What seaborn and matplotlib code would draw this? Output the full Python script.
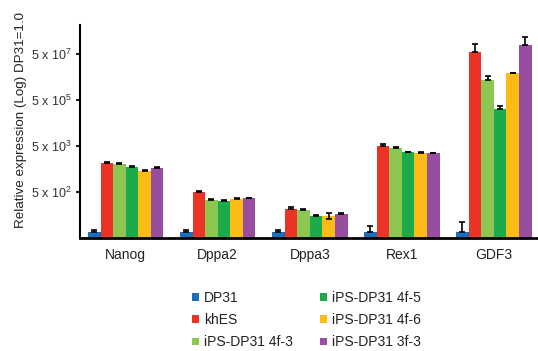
import matplotlib
matplotlib.use("Agg")
import matplotlib.pyplot as plt
import seaborn as sns
import pandas as pd
import numpy as np

genes = ["Nanog", "Dppa2", "Dppa3", "Rex1", "GDF3"]
samples = ["DP31", "khES", "iPS-DP31 4f-3", "iPS-DP31 4f-5", "iPS-DP31 4f-6", "iPS-DP31 3f-3"]
colors = ["#1b6fba", "#ec3325", "#8dc751", "#1bab4b", "#fcbb15", "#974ea0"]

# bar heights in axis units (tick 1..4 = 5x10^2, 5x10^3, 5x10^5, 5x10^7)
values = {
    "DP31":          [0.14, 0.14, 0.14, 0.14, 0.14],
    "khES":          [1.63, 1.00, 0.64, 2.00, 4.06],
    "iPS-DP31 4f-3": [1.62, 0.83, 0.62, 1.97, 3.45],
    "iPS-DP31 4f-5": [1.54, 0.80, 0.48, 1.87, 2.81],
    "iPS-DP31 4f-6": [1.46, 0.84, 0.48, 1.86, 3.59],
    "iPS-DP31 3f-3": [1.52, 0.86, 0.53, 1.85, 4.21],
}
err_up = {
    "DP31":          [0.03, 0.04, 0.04, 0.11, 0.20],
    "khES":          [0.02, 0.02, 0.03, 0.04, 0.16],
    "iPS-DP31 4f-3": [0.02, 0.02, 0.01, 0.02, 0.08],
    "iPS-DP31 4f-5": [0.02, 0.03, 0.01, 0.01, 0.07],
    "iPS-DP31 4f-6": [0.01, 0.02, 0.07, 0.01, 0.01],
    "iPS-DP31 3f-3": [0.02, 0.02, 0.01, 0.01, 0.16],
}
err_down = {
    "DP31":          [0.0, 0.0, 0.0, 0.0, 0.0],
    "khES":          [0.0, 0.0, 0.0, 0.0, 0.0],
    "iPS-DP31 4f-3": [0.0, 0.0, 0.0, 0.0, 0.0],
    "iPS-DP31 4f-5": [0.0, 0.0, 0.0, 0.0, 0.0],
    "iPS-DP31 4f-6": [0.0, 0.0, 0.07, 0.0, 0.0],
    "iPS-DP31 3f-3": [0.0, 0.0, 0.0, 0.0, 0.0],
}
ytick_pos = [1, 2, 3, 4]
ytick_labels = [r"5 x 10$^{2}$", r"5 x 10$^{3}$", r"5 x 10$^{5}$", r"5 x 10$^{7}$"]
ylabel = "Relative expression (Log) DP31=1.0"

rows = []
for s in samples:
    for g, v, eu, ed in zip(genes, values[s], err_up[s], err_down[s]):
        rows.append({"gene": g, "sample": s, "value": v, "eu": eu, "ed": ed})
df = pd.DataFrame(rows)

sns.set_style("white")
plt.rcParams["font.family"] = ["Liberation Sans", "DejaVu Sans"]
plt.rcParams["mathtext.fontset"] = "custom"
plt.rcParams["mathtext.rm"] = "Liberation Sans"

fig = plt.figure(figsize=(5.38, 3.51), dpi=100)
ax = fig.add_axes([0.149, 0.322, 0.851, 0.607])

sns.barplot(data=df, x="gene", y="value", hue="sample", order=genes,
            hue_order=samples, palette=colors, width=0.82, errorbar=None,
            saturation=1, ax=ax, legend=True, linewidth=0)

# error bars at bar centres
for cont, s in zip(ax.containers, samples):
    xs = [p.get_x() + p.get_width() / 2 for p in cont.patches]
    ys = values[s]
    ax.errorbar(xs, ys, yerr=[err_down[s], err_up[s]], fmt="none",
                ecolor="black", elinewidth=1.2, capsize=2.5, capthick=1.2)

ax.set_xlim(-0.495, 4.48)
ax.set_ylim(0, 4.64)
ax.set_yticks(ytick_pos)
ax.set_yticklabels(ytick_labels, fontsize=9, color="#333333")
ax.set_xlabel("")
ax.set_ylabel(ylabel, fontsize=9.6, color="#222222")
ax.yaxis.set_label_coords(-0.116, 0.554)
ax.tick_params(axis="x", length=0, labelsize=10, pad=7, colors="#222222")
ax.tick_params(axis="y", length=3, width=1.5, direction="out", left=True, pad=3)
sns.despine(ax=ax, top=True, right=True)
ax.spines["left"].set_linewidth(1.5)
ax.spines["bottom"].set_linewidth(2)
ax.spines["left"].set_color("black")
ax.spines["bottom"].set_color("black")

handles, labels = ax.get_legend_handles_labels()
ax.get_legend().remove()
fig.legend(handles, labels,
           loc="center", bbox_to_anchor=(0.570, 0.088), ncol=2, frameon=False,
           fontsize=10, handlelength=0.5, handleheight=0.5, handletextpad=0.35,
           labelspacing=0.6, columnspacing=1.95, labelcolor="#222222")

fig.savefig("out.png", dpi=100)
